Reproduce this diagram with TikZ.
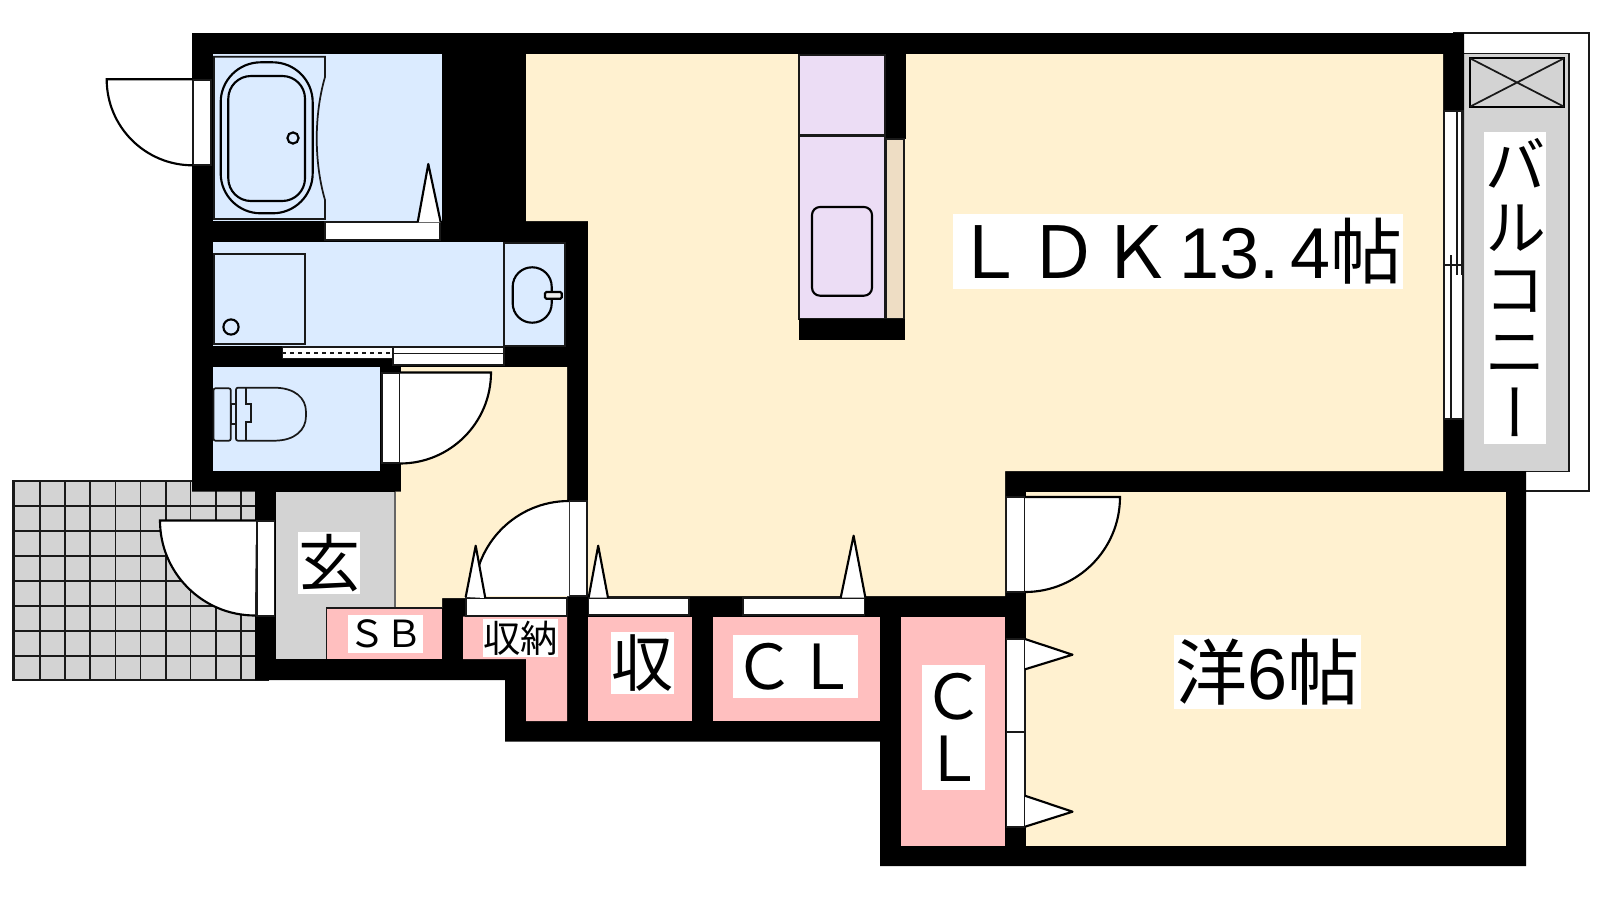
\documentclass[tikz,border=0pt]{standalone}
\usepackage{fontspec}
\setmainfont{Noto Sans CJK JP}
\newfontfamily\latinf{Liberation Sans}
\newfontfamily\vertf[RawFeature={+vert}]{Noto Sans CJK JP}
\definecolor{beige}{RGB}{255,241,208}
\definecolor{bluer}{RGB}{219,235,255}
\definecolor{pinkr}{RGB}{255,191,191}
\definecolor{grayr}{RGB}{211,211,211}
\definecolor{lilac}{RGB}{236,221,245}
\definecolor{tanr}{RGB}{238,221,196}
\tikzset{
  fine/.style={draw=black!90,line width=1.3pt},
  fixture/.style={draw=black,line width=1.6pt},
  doorw/.style={fine,fill=white},
  lbl/.style={fill=white,inner sep=0pt,text=black,align=center},
  big/.style={font=\fontsize{46.5}{46.5}\selectfont},
  huge/.style={font=\fontsize{54}{60}\selectfont},
  small/.style={font=\fontsize{28}{30}\selectfont},
}
\begin{document}
\begin{tikzpicture}[x=0.75pt,y=-0.75pt]
\useasboundingbox (0,0) rectangle (1600,900);
% tile terrace
\fill[grayr] (12.5,481) rectangle (255,680);
\draw[fine,line width=1.5pt] (12.5,481) rectangle (268,680);
\foreach \vx in {14.5,40.2,65,90.3,115.6,140.4,165.7,190.6,215.8,241.1}
  \draw[fine] (\vx,481) -- (\vx,680);
\foreach \hy in {506,531.3,556,580.7,606,631.3,656}
  \draw[fine] (12.5,\hy) -- (255,\hy);
% balcony
\draw[fine] (1453,33) -- (1589,33) -- (1589,491) -- (1500,491);
\draw[fine,fill=grayr] (1460,53.5) rectangle (1568.7,471.5);
\draw[fixture,fill=grayr] (1470,58.3) rectangle (1564,106.7);
\draw[fine] (1470,58.3) -- (1564,106.7) (1470,106.7) -- (1564,58.3);
% walls
\fill[black] (192,33) -- (1464,33) -- (1464,471) -- (1526,471) -- (1526,866)
  -- (880,866) -- (880,741.7) -- (505,741.7) -- (505,680) -- (255,680)
  -- (255,491.7) -- (192,491.7) -- cycle;
% living room
\fill[beige] (526,54) -- (1443,54) -- (1443,471) -- (1005,471) -- (1005,596)
  -- (588,596) -- (588,221) -- (526,221) -- cycle;
\fill[beige] (1026,492) rectangle (1506,846);
% hall
\fill[beige] (401,367) -- (567,367) -- (567,598) -- (442,598) -- (442,608)
  -- (395.3,608) -- (395.3,491.7) -- (401,491.7) -- cycle;
% entrance
\fill[grayr] (276,491.7) rectangle (395.3,659);
\draw[fine,draw=black!60] (395.3,491.7) -- (395.3,608);
% wet rooms
\fill[bluer] (213.3,54) rectangle (442,221);
\fill[bluer] (213.3,242) rectangle (566,346);
\fill[bluer] (213,367) rectangle (380,471);
% storage
\fill[pinkr] (326.4,608) rectangle (442,659);
\draw[fine] (326.4,659) -- (326.4,608) -- (442,608);
\fill[pinkr] (463,616.7) -- (567,616.7) -- (567,721) -- (526,721) -- (526,659) -- (463,659) -- cycle;
\fill[pinkr] (588,616.7) rectangle (692,721);
\fill[pinkr] (712.9,616.7) rectangle (880,721);
\fill[pinkr] (901,616.7) rectangle (1005,846);
% bath
\draw[fine,fill=bluer] (214,56.7) -- (325,56.7) -- (325,77) .. controls (314,115) and (314,162) .. (325,200) -- (325,219) -- (214,219) -- cycle;
\draw[fixture,rounded corners=30pt] (220.7,62.3) rectangle (312.7,213.3);
\draw[fixture,rounded corners=17pt] (228.3,76) rectangle (305,201);
\draw[fixture] (293,138) circle[radius=4.2pt];
\draw[doorw] (193.3,80) rectangle (211,165);
\draw[fixture] (192.7,79.3) -- (106.7,79.3) arc (180:270:64.5pt);
% bath door
\draw[doorw] (325,222.3) rectangle (440,240);
\draw[fixture,fill=white,line join=round] (417.7,222.3) -- (428.3,164) -- (440.7,222.3);
% wash room
\draw[fine,fill=bluer] (214.3,254.3) rectangle (304.7,344.3);
\draw[fixture] (231,327) circle[radius=5.7pt];
\draw[fine,fill=bluer] (504.3,243.3) rectangle (565.3,346);
\draw[fixture,rounded corners=14.5pt] (512.7,267.3) rectangle (551.7,322.7);
\draw[fixture,fill=grayr!40,rounded corners=1pt] (545,292) rectangle (561.7,298.7);
% sliding doors
\draw[doorw] (282.4,347) rectangle (393,358.5);
\draw[fine,dashed] (282.4,353) -- (393,353);
\draw[doorw] (393,347) rectangle (504,365);
\draw[fine] (393,353.5) -- (504,353.5);
% toilet
\draw[fine,fill=bluer,rounded corners=1.5pt] (213.5,388.3) rectangle (230.8,440.7);
\draw[fine,fill=bluer] (230.8,404) rectangle (236,424);
\draw[fine,fill=bluer,rounded corners=1.5pt] (236,440.7) -- (236,387.7) -- (272,387.7)
  .. controls (295,387.7) and (306,398) .. (306,414) .. controls (306,430) and (295,440.7) .. (272,440.7) -- cycle;
\draw[fine] (245.7,387.7) -- (245.7,404) -- (250.7,404) -- (250.7,422.3) -- (245.7,422.3) -- (245.7,440.7);
% toilet door
\draw[doorw] (382,372.7) rectangle (400,463);
\draw[fixture,fill=white] (400,372.5) -- (491,372.5) arc (0:-90:68.25pt);
% hall door
\draw[doorw] (569,501) rectangle (586.7,596);
\fill[white] (569,501) arc (90:180:71.25pt) -- (569,596) -- cycle;
\draw[fixture] (569,501) arc (90:180:71.25pt);
\draw[doorw] (466,597.7) rectangle (567,615.7);
\draw[fixture,fill=white,line join=round] (465.7,597) -- (475.7,545.7) -- (485.3,598);
% entrance door
\draw[doorw] (257,521) rectangle (274.4,615.7);
\draw[fixture,fill=white] (256,520.5) -- (160,520.5) arc (180:270:71.25pt);
% closet doors
\draw[doorw] (588.6,597.7) rectangle (689.3,615);
\draw[fixture,fill=white,line join=round] (588.6,597.7) -- (598.2,545.7) -- (608,597.7);
\draw[doorw] (742.9,597.7) rectangle (864.6,615);
\draw[fixture,fill=white,line join=round] (840.7,597.7) -- (853.6,535.7) -- (865.4,597.7);
\draw[doorw] (1006.4,639) rectangle (1025,732);
\draw[doorw] (1006.4,732) rectangle (1025,826.7);
\draw[fixture,fill=white,line join=round] (1025,639) -- (1072.5,654.7) -- (1025,669.3);
\draw[fixture,fill=white,line join=round] (1025,795.7) -- (1072.5,811.7) -- (1025,826.7);
% room door
\draw[doorw] (1006.4,497) rectangle (1025,591.7);
\draw[fixture,fill=white] (1025,497) -- (1120,497) arc (0:-90:71.25pt);
% kitchen
\fill[black] (885,54) rectangle (905.7,138.7);
\draw[fine,fill=lilac] (799.3,55) rectangle (885,135);
\draw[fine,fill=lilac] (798.7,135.7) rectangle (885,319.3);
\draw[fixture,rounded corners=6pt] (812,207) rectangle (872,295.7);
\draw[fine,fill=tanr] (886.3,138.7) rectangle (904.3,319.3);
\fill[black] (799,319.3) rectangle (905,340);
% sliding window
\draw[doorw] (1444,110.7) rectangle (1463.3,419.3);
\draw[fine] (1456.7,110.7) -- (1456.7,275) (1462,110.7) -- (1462,275);
\draw[fine] (1450.7,255) -- (1450.7,419.3);
\draw[fine] (1444,265) -- (1463.3,265);
% labels
\node[lbl,huge,minimum width=450*0.75pt,minimum height=75*0.75pt] (ldk) at (1178,251.5) {Ｌ\kern1.1ptＤ\kern1.1ptＫ\kern4.9pt{\latinf 13.\kern8pt 4}帖};
\node[lbl,huge,minimum width=187.5*0.75pt,minimum height=74*0.75pt] (yo) at (1267.5,672) {洋{\latinf 6}帖};
\node[lbl,big,minimum width=62*0.75pt,minimum height=62*0.75pt] (gen) at (329,563) {玄};
\node[lbl,small,minimum width=75*0.75pt,minimum height=37.7*0.75pt] (sb) at (385.4,634) {ＳＢ};
\node[lbl,small,minimum width=75*0.75pt,minimum height=37.4*0.75pt] (shu) at (520.5,638) {収納};
\node[lbl,big,minimum width=63*0.75pt,minimum height=62*0.75pt] (osa) at (642.5,663) {収};
\node[lbl,big,minimum width=125*0.75pt,minimum height=63*0.75pt] (cla) at (795.4,666.5) {ＣＬ};
\node[lbl,big,minimum width=63*0.75pt,minimum height=125*0.75pt] (clb) at (953.5,727.5) {Ｃ\\Ｌ};
\node[lbl,big,minimum width=62*0.75pt,minimum height=312*0.75pt,font=\fontsize{46.5}{46.5}\selectfont\vertf] (bal) at (1515,288) {バ\\ル\\コ\\ニ\\ー};
\end{tikzpicture}
\end{document}
